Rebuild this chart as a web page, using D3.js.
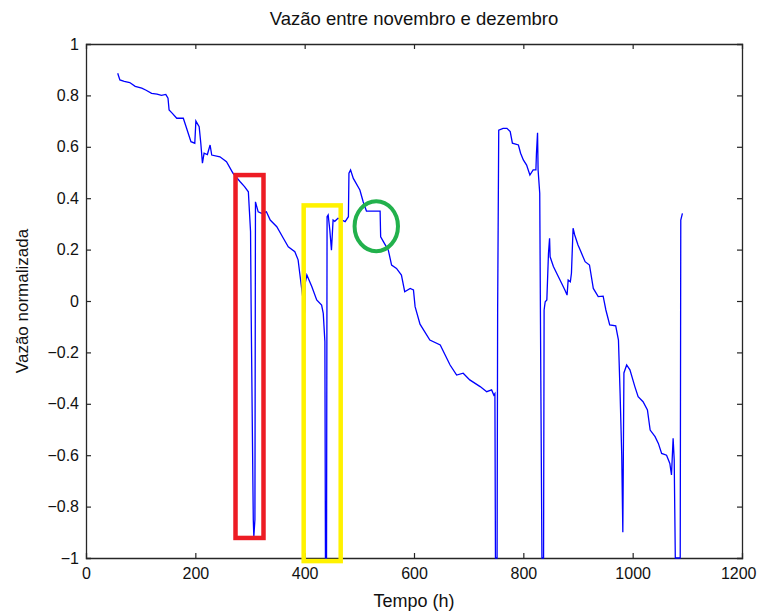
<!DOCTYPE html>
<html>
<head>
<meta charset="utf-8">
<script src="https://cdn.jsdelivr.net/npm/d3@7"></script>
<style>
  html, body { margin: 0; padding: 0; background: #fff; }
  svg { display: block; font-family: "Liberation Sans", Arial, sans-serif; }
</style>
</head>
<body>
<svg id="chart" width="758" height="612"></svg>
<script>
// ---- Data ----
const tempo = [58,62,70,80,90,102,110,120,130,138,146,150,152,158,166,178,184,192,199,201,207,210,213,216,222,227,230,245,257,269,282,290,297,299,301,302,304,306,307,309,310,315,321,330,337,349,361,370,382,388,391,400,401,404,413,422,431,434,437,438,440,441,443,446,449,452,455,461,474,480,481,484,489,501,507,513,538,539,544,553,559,568,577,583,593,599,602,611,629,648,657,666,678,690,702,721,733,742,746,748,749,752,753,755,763,770,776,780,791,795,800,806,812,818,823,824,826,827,830,832,834,837,838,840,843,846,848,849,855,861,870,876,880,882,886,888,891,894,900,904,913,921,928,937,946,951,958,969,974,977,980,982,984,989,995,1004,1010,1019,1027,1032,1041,1047,1053,1062,1068,1071,1074,1076,1078,1087,1088,1091];
const vazao = [0.886,0.86,0.855,0.85,0.835,0.828,0.82,0.808,0.805,0.80,0.804,0.789,0.743,0.73,0.711,0.711,0.672,0.62,0.614,0.70,0.678,0.614,0.536,0.575,0.57,0.607,0.568,0.561,0.542,0.497,0.464,0.445,0.425,0.347,0.27,-0.01,-0.437,-0.85,-0.917,-0.85,0.386,0.347,0.341,0.347,0.315,0.289,0.244,0.211,0.192,0.16,0.108,-0.045,0.07,0.101,0.056,0.004,-0.016,-0.048,-0.158,-1.0,-1.0,0.328,0.335,0.276,0.198,0.315,0.31,0.322,0.309,0.328,0.497,0.51,0.477,0.432,0.386,0.35,0.35,0.25,0.231,0.198,0.14,0.127,0.101,0.036,0.049,0.043,-0.022,-0.09,-0.152,-0.171,-0.21,-0.249,-0.288,-0.281,-0.307,-0.333,-0.353,-0.346,-0.366,-0.36,-1.0,-1.0,-0.035,0.665,0.672,0.672,0.659,0.614,0.607,0.575,0.549,0.529,0.49,0.51,0.51,0.575,0.655,0.51,0.419,-0.31,-1.0,-1.0,-0.035,-0.003,0.004,0.186,0.244,0.172,0.134,0.108,0.069,0.043,0.023,0.082,0.075,0.108,0.283,0.257,0.218,0.198,0.153,0.14,0.049,0.017,0.019,-0.035,-0.093,-0.097,-0.152,-0.359,-0.6,-0.9,-0.28,-0.249,-0.268,-0.333,-0.372,-0.392,-0.424,-0.502,-0.528,-0.554,-0.593,-0.6,-0.632,-0.677,-0.534,-0.619,-1.0,-1.0,0.315,0.341];

const xTicks = [0,200,400,600,800,1000,1200];
const yTicks = [-1,-0.8,-0.6,-0.4,-0.2,0,0.2,0.4,0.6,0.8,1];

const titleText = "Vazão entre novembro e dezembro";
const xLabel = "Tempo (h)";
const yLabel = "Vazão normalizada";

// Annotation shapes (in data units)
const rectNames = ["vermelho","amarelo"];
const rectT0 = [273.5, 398.2];
const rectT1 = [324.7, 465.9];
const rectV0 = [0.49, 0.372];
const rectV1 = [-0.922, -1.012];
const rectColors = ["#ED1C24", "#FFF200"];
const ellT = [531], ellV = [0.291], ellRT = [39.7], ellRV = [0.0973];
const ellColors = ["#22B14C"];

// ---- Layout ----
const W = 758;
const L = 86, R = 742, T = 44, B = 558;
const svg = d3.select("#chart");
const x = d3.scaleLinear().domain([0,1200]).range([L,R]);
const y = d3.scaleLinear().domain([-1,1]).range([B,T]);

svg.append("defs").append("clipPath").attr("id","clip")
  .append("rect").attr("x",L).attr("y",T-1).attr("width",R-L).attr("height",B-T+2);

const tickLen = 5;
const axColor = "#262626";
const fs = 16;

const xb = svg.append("g").attr("transform",`translate(0,${B})`)
  .call(d3.axisBottom(x).tickValues(xTicks).tickSize(-tickLen).tickPadding(10).tickFormat(d3.format("d")));
const xt = svg.append("g").attr("transform",`translate(0,${T})`)
  .call(d3.axisTop(x).tickValues(xTicks).tickSize(-tickLen).tickFormat(""));
const yl = svg.append("g").attr("transform",`translate(${L},0)`)
  .call(d3.axisLeft(y).tickValues(yTicks).tickSize(-tickLen).tickPadding(7).tickFormat(d => d3.format("")(+d.toFixed(1))));
const yr = svg.append("g").attr("transform",`translate(${R},0)`)
  .call(d3.axisRight(y).tickValues(yTicks).tickSize(-tickLen).tickFormat(""));

[xb,xt,yl,yr].forEach(g => {
  g.selectAll(".domain").attr("stroke",axColor).attr("stroke-width",1.3);
  g.selectAll(".tick line").attr("stroke",axColor).attr("stroke-width",1.2);
  g.selectAll("text").attr("font-size",fs).attr("fill","#111").attr("font-family","Liberation Sans, Arial, sans-serif");
});
[xb,xt].forEach(g => g.selectAll(".tick").filter(d => d===0||d===1200).select("line").remove());
[yl,yr].forEach(g => g.selectAll(".tick").filter(d => d===-1||d===1).select("line").remove());
// keep the last x label inside the canvas
xb.selectAll(".tick").filter(d => d===1200).select("text")
  .attr("text-anchor","end").attr("x", W - 2 - R);

// Series line
const pts = tempo.map((t,i) => [t, vazao[i]]);
const line = d3.line().x(d => x(d[0])).y(d => y(d[1]));
svg.append("path").datum(pts)
  .attr("clip-path","url(#clip)")
  .attr("d", line)
  .attr("fill","none").attr("stroke","#0000FF").attr("stroke-width",1.3)
  .attr("stroke-linejoin","miter");

// Annotations
rectNames.forEach((n,i) => {
  svg.append("rect")
    .attr("x", x(rectT0[i])).attr("y", y(rectV0[i]))
    .attr("width", x(rectT1[i]) - x(rectT0[i]))
    .attr("height", y(rectV1[i]) - y(rectV0[i]))
    .attr("fill","none").attr("stroke",rectColors[i]).attr("stroke-width",4.5);
});
ellT.forEach((t,i) => {
  svg.append("ellipse")
    .attr("cx", x(t)).attr("cy", y(ellV[i]))
    .attr("rx", x(t+ellRT[i]) - x(t)).attr("ry", y(ellV[i]-ellRV[i]) - y(ellV[i]))
    .attr("fill","none").attr("stroke",ellColors[i]).attr("stroke-width",4);
});

// Texts
svg.append("text").attr("x",(L+R)/2).attr("y",25).attr("text-anchor","middle")
  .attr("font-size",18.5).attr("fill","#111").text(titleText);
svg.append("text").attr("x",(L+R)/2).attr("y",607).attr("text-anchor","middle")
  .attr("font-size",18).attr("fill","#111").text(xLabel);
svg.append("text").attr("transform",`translate(28,${(T+B)/2}) rotate(-90)`).attr("text-anchor","middle")
  .attr("font-size",17).attr("fill","#111").text(yLabel);
</script>
</body>
</html>
